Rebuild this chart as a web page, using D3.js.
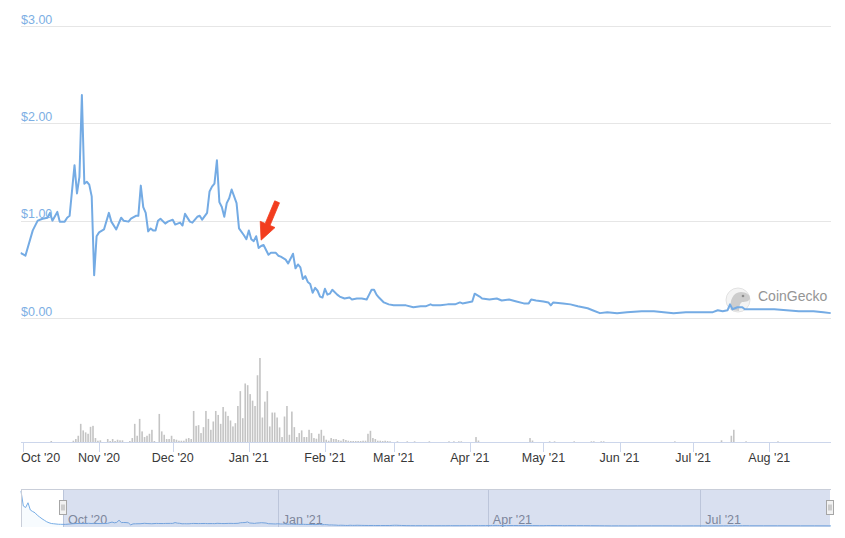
<!DOCTYPE html>
<html>
<head>
<meta charset="utf-8">
<script src="https://cdn.jsdelivr.net/npm/d3@7"></script>
<style>
  body { margin: 0; background: #fff; }
  svg { display: block; font-family: "Liberation Sans", Arial, Helvetica, sans-serif; }
</style>
</head>
<body>
<script>
// Price in USD (date, price)
const price = [
  ["2020-09-30", 0.67], ["2020-10-02", 0.64], ["2020-10-05", 0.90], ["2020-10-07", 1.00],
  ["2020-10-09", 1.02], ["2020-10-11", 1.03], ["2020-10-12", 1.08], ["2020-10-13", 1.00],
  ["2020-10-15", 1.09], ["2020-10-16", 0.99], ["2020-10-18", 0.99], ["2020-10-19", 1.03],
  ["2020-10-20", 1.05], ["2020-10-22", 1.57], ["2020-10-23", 1.28], ["2020-10-24", 1.45],
  ["2020-10-25", 2.29], ["2020-10-26", 1.38], ["2020-10-27", 1.40], ["2020-10-28", 1.37],
  ["2020-10-29", 1.25], ["2020-10-30", 0.44], ["2020-10-31", 0.84],
  ["2020-11-01", 0.88], ["2020-11-03", 0.91], ["2020-11-05", 1.08], ["2020-11-06", 0.99],
  ["2020-11-08", 0.91], ["2020-11-10", 1.03], ["2020-11-11", 1.00], ["2020-11-13", 0.99],
  ["2020-11-14", 1.02], ["2020-11-16", 1.05], ["2020-11-17", 1.05], ["2020-11-18", 1.36],
  ["2020-11-19", 1.14], ["2020-11-20", 1.08], ["2020-11-21", 0.89], ["2020-11-22", 0.92],
  ["2020-11-23", 0.90], ["2020-11-24", 0.90], ["2020-11-25", 1.00], ["2020-11-26", 1.02],
  ["2020-11-28", 0.97], ["2020-11-29", 0.99],
  ["2020-12-01", 1.01], ["2020-12-02", 0.96], ["2020-12-04", 0.98], ["2020-12-05", 0.95],
  ["2020-12-06", 1.07], ["2020-12-08", 0.99], ["2020-12-09", 0.98], ["2020-12-11", 1.04],
  ["2020-12-12", 1.05], ["2020-12-13", 1.01], ["2020-12-15", 1.08], ["2020-12-16", 1.30],
  ["2020-12-17", 1.35], ["2020-12-18", 1.38], ["2020-12-19", 1.62], ["2020-12-20", 1.19],
  ["2020-12-21", 1.14], ["2020-12-22", 1.04], ["2020-12-23", 1.18], ["2020-12-24", 1.23],
  ["2020-12-25", 1.32], ["2020-12-27", 1.18], ["2020-12-28", 0.92], ["2020-12-30", 0.85],
  ["2020-12-31", 0.81],
  ["2021-01-01", 0.90], ["2021-01-02", 0.81], ["2021-01-03", 0.79], ["2021-01-04", 0.84],
  ["2021-01-05", 0.72], ["2021-01-06", 0.74], ["2021-01-07", 0.75], ["2021-01-09", 0.65],
  ["2021-01-10", 0.67], ["2021-01-12", 0.67], ["2021-01-13", 0.64], ["2021-01-14", 0.63],
  ["2021-01-16", 0.60], ["2021-01-17", 0.56], ["2021-01-19", 0.66], ["2021-01-20", 0.51],
  ["2021-01-21", 0.55], ["2021-01-22", 0.52], ["2021-01-23", 0.40], ["2021-01-24", 0.43],
  ["2021-01-25", 0.37], ["2021-01-26", 0.35], ["2021-01-27", 0.26], ["2021-01-28", 0.31],
  ["2021-01-29", 0.28], ["2021-01-30", 0.22], ["2021-01-31", 0.21],
  ["2021-02-01", 0.30], ["2021-02-02", 0.24], ["2021-02-03", 0.25], ["2021-02-04", 0.29],
  ["2021-02-06", 0.24], ["2021-02-07", 0.22], ["2021-02-09", 0.20], ["2021-02-11", 0.21],
  ["2021-02-12", 0.19], ["2021-02-14", 0.20], ["2021-02-16", 0.20], ["2021-02-18", 0.19],
  ["2021-02-19", 0.24], ["2021-02-20", 0.29], ["2021-02-21", 0.29], ["2021-02-22", 0.24],
  ["2021-02-23", 0.21], ["2021-02-25", 0.16], ["2021-02-27", 0.14],
  ["2021-03-01", 0.13], ["2021-03-04", 0.13], ["2021-03-06", 0.13], ["2021-03-09", 0.11],
  ["2021-03-12", 0.12], ["2021-03-14", 0.12], ["2021-03-16", 0.14], ["2021-03-17", 0.13],
  ["2021-03-20", 0.13], ["2021-03-23", 0.14], ["2021-03-25", 0.14], ["2021-03-26", 0.14],
  ["2021-03-28", 0.16], ["2021-03-29", 0.15], ["2021-03-31", 0.16],
  ["2021-04-02", 0.17], ["2021-04-03", 0.25], ["2021-04-05", 0.22], ["2021-04-06", 0.20],
  ["2021-04-09", 0.19], ["2021-04-12", 0.20], ["2021-04-14", 0.18], ["2021-04-17", 0.19],
  ["2021-04-20", 0.17], ["2021-04-23", 0.15], ["2021-04-25", 0.15], ["2021-04-26", 0.19],
  ["2021-04-28", 0.18],
  ["2021-05-01", 0.17], ["2021-05-03", 0.16], ["2021-05-04", 0.13], ["2021-05-05", 0.16],
  ["2021-05-09", 0.15], ["2021-05-12", 0.14], ["2021-05-15", 0.12], ["2021-05-19", 0.10],
  ["2021-05-21", 0.08], ["2021-05-24", 0.05], ["2021-05-27", 0.06], ["2021-05-31", 0.05],
  ["2021-06-04", 0.06], ["2021-06-10", 0.07], ["2021-06-15", 0.07], ["2021-06-19", 0.06],
  ["2021-06-23", 0.05], ["2021-06-28", 0.06],
  ["2021-07-04", 0.06], ["2021-07-09", 0.06], ["2021-07-11", 0.08], ["2021-07-13", 0.07],
  ["2021-07-15", 0.08], ["2021-07-16", 0.14], ["2021-07-17", 0.09], ["2021-07-19", 0.11],
  ["2021-07-21", 0.11], ["2021-07-22", 0.09], ["2021-07-28", 0.09],
  ["2021-08-03", 0.09], ["2021-08-08", 0.08], ["2021-08-13", 0.07], ["2021-08-19", 0.07],
  ["2021-08-23", 0.06], ["2021-08-26", 0.05]
];

// Earlier history, only visible in the navigator
const earlyPrice = [
  ["2020-09-13", 14.0], ["2020-09-14", 8.0], ["2020-09-15", 7.4], ["2020-09-16", 9.3],
  ["2020-09-17", 6.4], ["2020-09-18", 5.8], ["2020-09-19", 5.3], ["2020-09-20", 4.3],
  ["2020-09-21", 3.6], ["2020-09-22", 2.9], ["2020-09-23", 2.3], ["2020-09-24", 1.7],
  ["2020-09-25", 1.3], ["2020-09-26", 1.0], ["2020-09-27", 0.9], ["2020-09-28", 0.8],
  ["2020-09-29", 0.7]
];

// Daily volume (relative units), one value per day from volumeStart
const volumeStart = "2020-09-30";
const volumes = [
  0, 0, 0, 0, 0, 0, 0, 0, 0, 0, 0, 0,
  1, 0, 0, 0, 0, 0, 0, 0, 0, 1.3, 3, 6.3,
  18.3, 11.7, 9.7, 8.3, 15.3, 16.3, 4, 1.3, 1.7, 0, 0, 3,
  1, 3, 1, 2.3, 1.7, 1.7, 0, 0, 1, 4, 18.3, 6.3,
  23.3, 10.7, 5, 6.3, 8.3, 12.3, 1, 0, 28.3, 10.7, 7.3, 3,
  3, 6.3, 3, 2.3, 1.3, 1.3, 1.3, 3.3, 4, 3, 31.3, 16.3,
  17, 9, 15, 31.3, 23.3, 12.3, 20.7, 31.3, 27.3, 18.3, 35.3, 30.7,
  26.3, 21.7, 15.7, 19, 36.3, 51.3, 24, 59, 57.3, 48.3, 41.7, 36.3,
  67.3, 84.7, 24.7, 40.7, 51.3, 15.7, 29.7, 29.7, 24.7, 14.7, 5, 25.7,
  36.3, 7.3, 30.7, 15, 5, 9, 11.7, 5, 5, 12.3, 9, 4,
  3.3, 8.3, 12.3, 6.3, 2.3, 1.3, 4, 3, 3, 2, 1.3, 3,
  2, 1.3, 1, 1, 1, 1, 1, 1.3, 1.3, 8.3, 11.3, 4,
  3, 1.3, 1.3, 1, 1.3, 1, 0.7, 0, 0, 0.7, 0, 0,
  0, 0.7, 0, 0, 0.7, 0, 0, 0, 0, 0, 0.7, 0,
  0, 0, 0, 0, 0, 0, 0.7, 0, 0.7, 0, 0.7, 0.7,
  0, 0, 0, 0, 0, 5, 1.5, 0, 0, 0, 0, 0,
  0, 0, 0, 0, 0, 0, 0, 0, 0, 0, 0, 0,
  0, 0, 0, 4, 1.5, 0, 0, 0, 0, 0, 0, 0.7,
  0, 0.7, 0, 0, 0, 0, 0, 0, 0, 0.7, 0, 0,
  0, 0, 0, 0, 0.7, 0.7, 0, 0, 0.7, 0.7, 0, 0,
  0, 0, 0, 0, 0, 0, 0, 0, 0, 0, 0, 0,
  0, 0, 0, 0, 0, 0, 0, 0, 0, 0, 0, 0,
  0, 0, 0.7, 0, 0, 0, 0, 0, 0, 0, 0, 0,
  0, 0, 0, 0, 0, 0, 0, 0, 0, 1.7, 0, 0,
  0, 6.3, 12.3, 0, 0, 0, 0, 0.7, 0, 0, 0, 0,
  0, 0, 0, 0, 0, 0, 0, 0, 0.7, 0, 0, 0,
  0, 0, 0, 0, 0, 0, 0, 0, 0, 0, 0, 0,
  0, 0, 0, 0, 0, 0, 0
];

const priceTicks = [0, 1, 2, 3];
const arrowAt = { date: "2021-01-06", price: 0.80 };

const parse = d3.utcParse("%Y-%m-%d");
const fmtMonth = d3.utcFormat("%b '%y");
const fmtPrice = d3.format("$.2f");

const W = 845, H = 538;
const left = 21, right = 831;

const svg = d3.select("body").append("svg")
    .attr("width", W)
    .attr("height", H);

const series = price.map(([d, v]) => ({date: parse(d), v}));
const navSeries = earlyPrice.map(([d, v]) => ({date: parse(d), v})).concat(series);
const volData = volumes.map((v, i) => ({date: d3.utcDay.offset(parse(volumeStart), i), v}));

// Scales
const x = d3.scaleUtc()
    .domain([parse("2020-09-30"), parse("2021-08-26")])
    .range([20.5, 830.7]);
const y = d3.scaleLinear().domain([0, 3]).range([318, 26]);
const yVol = d3.scaleLinear().domain([0, d3.max(volumes)]).range([442, 358]);

const xNav = d3.scaleUtc()
    .domain([parse("2020-09-13"), parse("2021-08-26")])
    .range([left, right]);
const yNav = d3.scaleLinear().domain([0, d3.max(navSeries, d => d.v)]).range([526, 491]);

// Grid lines and price labels
svg.append("g").selectAll("line")
  .data(priceTicks)
  .enter().append("line")
    .attr("x1", left).attr("x2", right)
    .attr("y1", d => Math.round(y(d)) + 0.5)
    .attr("y2", d => Math.round(y(d)) + 0.5)
    .attr("stroke", "#e6e6e6");

svg.append("g").selectAll("text")
  .data(priceTicks)
  .enter().append("text")
    .attr("x", left)
    .attr("y", d => y(d) - 2.5)
    .attr("fill", "#7dafe4")
    .attr("font-size", 12.5)
    .text(d => fmtPrice(d));

// CoinGecko watermark
const wm = svg.append("g").attr("class", "watermark");
wm.append("circle").attr("cx", 738).attr("cy", 300).attr("r", 12)
    .attr("fill", "#f4f4f4").attr("stroke", "#e2e2e2");
wm.append("path")
    .attr("d", "M731,310 C729,301 733,292 741,292 C746,292 750,295 750,298 C750,301 746,302 742,302 C740,303 739,306 739,311 Z")
    .attr("fill", "#cdcdcd");
wm.append("circle").attr("cx", 743).attr("cy", 296).attr("r", 1.3).attr("fill", "#8c8c8c");
wm.append("text")
    .attr("x", 758).attr("y", 301)
    .attr("font-size", 14)
    .attr("fill", "#959595")
    .text("CoinGecko");

// Price line
svg.append("clipPath").attr("id", "plotClip")
  .append("rect").attr("x", 20.5).attr("y", 0).attr("width", 811).attr("height", 330);

svg.append("path")
    .datum(series)
    .attr("clip-path", "url(#plotClip)")
    .attr("fill", "none")
    .attr("stroke", "#74abe4")
    .attr("stroke-width", 2)
    .attr("stroke-linejoin", "round")
    .attr("d", d3.line().x(d => x(d.date)).y(d => y(d.v)));

// Volume bars
svg.append("g").selectAll("rect")
  .data(volData.filter(d => d.v > 0))
  .enter().append("rect")
    .attr("x", d => x(d.date) + 0.5)
    .attr("width", 1.6)
    .attr("y", d => yVol(d.v))
    .attr("height", d => 442 - yVol(d.v))
    .attr("fill", "#c4c4c4");

// X axis
const months = d3.utcMonth.range(parse("2020-10-01"), parse("2021-08-20"));
svg.append("line")
    .attr("x1", left).attr("x2", right)
    .attr("y1", 442.5).attr("y2", 442.5)
    .attr("stroke", "#ccd6eb");

const xt = svg.append("g").selectAll("g")
  .data(months)
  .enter().append("g");
xt.append("line")
    .attr("x1", d => Math.round(x(d)) + 0.5).attr("x2", d => Math.round(x(d)) + 0.5)
    .attr("y1", 442).attr("y2", 452)
    .attr("stroke", "#ccd6eb");
xt.append("text")
    .attr("x", (d, i) => i === 0 ? left : x(d))
    .attr("y", 461.5)
    .attr("text-anchor", (d, i) => i === 0 ? "start" : "middle")
    .attr("font-size", 12.5)
    .attr("fill", "#383838")
    .text(d => fmtMonth(d));

// Navigator
const nav = svg.append("g").attr("class", "navigator");
const quarters = d3.utcMonth.every(3).range(parse("2020-10-01"), parse("2021-08-26"));

nav.selectAll("line.grid")
  .data(quarters)
  .enter().append("line")
    .attr("class", "grid")
    .attr("x1", d => Math.round(xNav(d)) + 0.5).attr("x2", d => Math.round(xNav(d)) + 0.5)
    .attr("y1", 489).attr("y2", 527)
    .attr("stroke", "#d8dbe2");

nav.selectAll("text")
  .data(quarters)
  .enter().append("text")
    .attr("x", d => xNav(d) + 5)
    .attr("y", 524)
    .attr("font-size", 12.5)
    .attr("fill", "#85878e")
    .text(d => fmtMonth(d));

nav.append("path")
    .datum(navSeries)
    .attr("fill", "rgba(124,181,236,0.06)")
    .attr("d", d3.area().x(d => xNav(d.date)).y0(527).y1(d => yNav(d.v)));

nav.append("path")
    .datum(navSeries)
    .attr("fill", "none")
    .attr("stroke", "#78aee6")
    .attr("stroke-width", 1)
    .attr("d", d3.line().x(d => xNav(d.date)).y(d => yNav(d.v)));

const m0 = xNav(parse("2020-10-01")), m1 = xNav(parse("2021-08-26")) - 1;
nav.append("rect")
    .attr("x", m0).attr("y", 489)
    .attr("width", m1 - m0).attr("height", 38)
    .attr("fill", "rgba(102,133,194,0.25)");

nav.append("path")
    .attr("d", `M${left},489.5H${right}M${left + 0.5},489V527`)
    .attr("stroke", "#c9ced9")
    .attr("fill", "none");

const handles = nav.selectAll("g.handle")
  .data([m0, m1])
  .enter().append("g")
    .attr("class", "handle")
    .attr("transform", d => `translate(${Math.round(d) - 3.5},500.5)`);
handles.append("rect")
    .attr("width", 7).attr("height", 14)
    .attr("fill", "#f2f2f2").attr("stroke", "#a6a6a6");
handles.append("path")
    .attr("d", "M2.5,4V10M4.5,4V10")
    .attr("stroke", "#a6a6a6");

// Red arrow annotation
const tipX = x(parse(arrowAt.date)), tipY = y(arrowAt.price);
const arrowPts = [[0, 0], [-0.9, -18.8], [4.1, -16.7], [13.6, -39.3], [18.4, -37.3],
                  [8.9, -14.7], [13.9, -12.6]];
svg.append("path")
    .attr("d", "M" + arrowPts.map(p => [tipX + p[0], tipY + p[1]].join(",")).join("L") + "Z")
    .attr("fill", "#f23d1f")
    .attr("stroke", "#f23d1f")
    .attr("stroke-width", 0.8)
    .attr("stroke-linejoin", "round");
</script>
</body>
</html>
